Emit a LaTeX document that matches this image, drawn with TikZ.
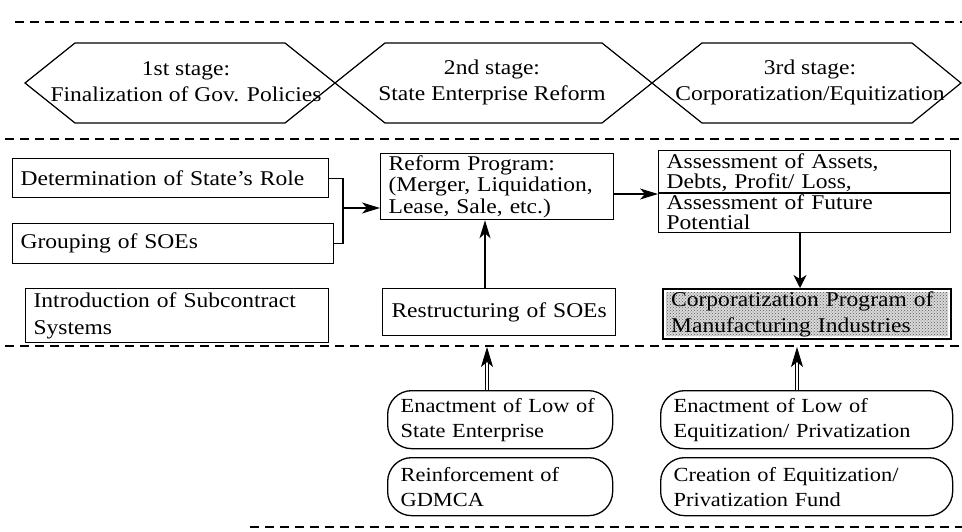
\documentclass[tikz,border=0pt]{standalone}
\usepackage{fontspec}
\setmainfont{Liberation Serif}[FakeStretch=1.12]
\usetikzlibrary{arrows.meta,patterns}
\begin{document}
\begin{tikzpicture}[x=1pt,y=-1pt,
  dline/.style={line width=1.2pt, dash pattern=on 9pt off 6pt},
  hexline/.style={line width=1.2pt, line join=miter},
  hextext/.style={align=center, inner sep=0pt, font=\fontsize{21}{26}\selectfont},
  box/.style={draw, line width=1.3pt, anchor=north west, inner xsep=8pt, inner ysep=0pt,
              align=left, font=\fontsize{21}{21.5}\selectfont},
  pill/.style={box, rounded corners=24pt, inner xsep=13pt, font=\fontsize{20}{25}\selectfont},
  shaded/.style={box, line width=2.4pt,
    path picture={\fill[gray!30] ([shift={(3pt,-3pt)}]path picture bounding box.north west)
                    rectangle ([shift={(-3pt,3pt)}]path picture bounding box.south east);
                  \fill[pattern=crosshatch dots, pattern color=black!65]
                    ([shift={(3pt,-3pt)}]path picture bounding box.north west)
                    rectangle ([shift={(-3pt,3pt)}]path picture bounding box.south east);}},
  arr/.style={line width=1.3pt, -{Stealth[length=18pt,width=11pt,inset=5pt]}},
  arrshort/.style={line width=1.3pt, -{Stealth[length=13pt,width=13pt,inset=4pt]}},
  dbl/.style={double, double distance=2.4pt, line width=0.9pt,
              -{Stealth[length=20pt,width=12pt,inset=5pt]}}
]
\useasboundingbox (0,0) rectangle (962,531);

% dashed separators between the rows
\draw[dline] (15,22) -- (962,22);
\draw[dline] (5,139) -- (962,139);
\draw[dline] (5,346) -- (962,346);
\draw[dline] (250,527) -- (962,527);

% stage hexagons
\draw[hexline] (25,83) -- (75,43) -- (285,43) -- (335,83) -- (285,123) -- (75,123) -- cycle;
\draw[hexline] (335,83) -- (385,43) -- (602,43) -- (652,83) -- (602,123) -- (385,123) -- cycle;
\draw[hexline] (652,83) -- (702,43) -- (912,43) -- (961,83) -- (912,123) -- (702,123) -- cycle;
\node[hextext] (s1) at (186,82) {1st stage:\\Finalization of Gov. Policies};
\node[hextext] (s2) at (492,82) {2nd stage:\\State Enterprise Reform};
\node[hextext] (s3) at (810,82) {3rd stage:\\Corporatization/Equitization};

% first stage
\node[box, text width=300pt, minimum height=39pt] (det) at (12,158) {Determination of State's Role};
\node[box, text width=305pt, minimum height=40pt] (grp) at (12,223) {Grouping of SOEs};
\node[box, text width=287pt, minimum height=54pt, font=\fontsize{21}{27}\selectfont] (intro) at (25,288)
  {Introduction of Subcontract\\Systems};

% second stage
\node[box, text width=217pt, minimum height=66pt] (reform) at (380,153)
  {Reform Program:\\(Merger, Liquidation,\\Lease, Sale, etc.)};
\node[box, text width=217pt, minimum height=47pt, align=center] (restr) at (382,288) {Restructuring of SOEs};

% third stage
\node[box, text width=276pt, minimum height=82pt, font=\fontsize{21}{20.5}\selectfont] (assess) at (658,150)
  {Assessment of Assets,\\Debts, Profit/ Loss,\\Assessment of Future\\Potential};
\draw[line width=1.3pt] ([yshift=-43pt]assess.north west) -- ([yshift=-43pt]assess.north east);
\node[shaded, text width=272pt, minimum height=50pt, font=\fontsize{21}{26}\selectfont] (corp) at (662,288)
  {Corporatization Program of\\Manufacturing Industries};

% legal measures
\node[pill, text width=199pt, minimum height=58pt] (law1) at (387,390) {Enactment of Low of\\State Enterprise};
\node[pill, text width=199pt, minimum height=58pt] (gdm) at (387,457) {Reinforcement of\\GDMCA};
\node[pill, text width=266pt, minimum height=58pt] (law2) at (660,390) {Enactment of Low of\\Equitization/ Privatization};
\node[pill, text width=266pt, minimum height=58pt] (fund) at (660,457) {Creation of Equitization/\\Privatization Fund};

% connectors
\coordinate (jn) at (343,208);
\draw[line width=1.3pt] (det.east) -| (jn) |- (grp.east);
\draw[arr] (jn) -- (reform.west |- jn);
\coordinate (up) at (485,288);
\draw[arr] (restr.north -| up) -- (reform.south -| up);
\draw[arr] ([yshift=-41pt]reform.north east) coordinate (ra) -- (assess.west |- ra);
\coordinate (dn) at (800,288);
\draw[arrshort] (assess.south -| dn) -- (corp.north -| dn);
\coordinate (t1) at (487,347);
\coordinate (t2) at (797,347);
\draw[dbl] (law1.north -| t1) -- (t1);
\draw[dbl] (law2.north -| t2) -- (t2);
\end{tikzpicture}
\end{document}
